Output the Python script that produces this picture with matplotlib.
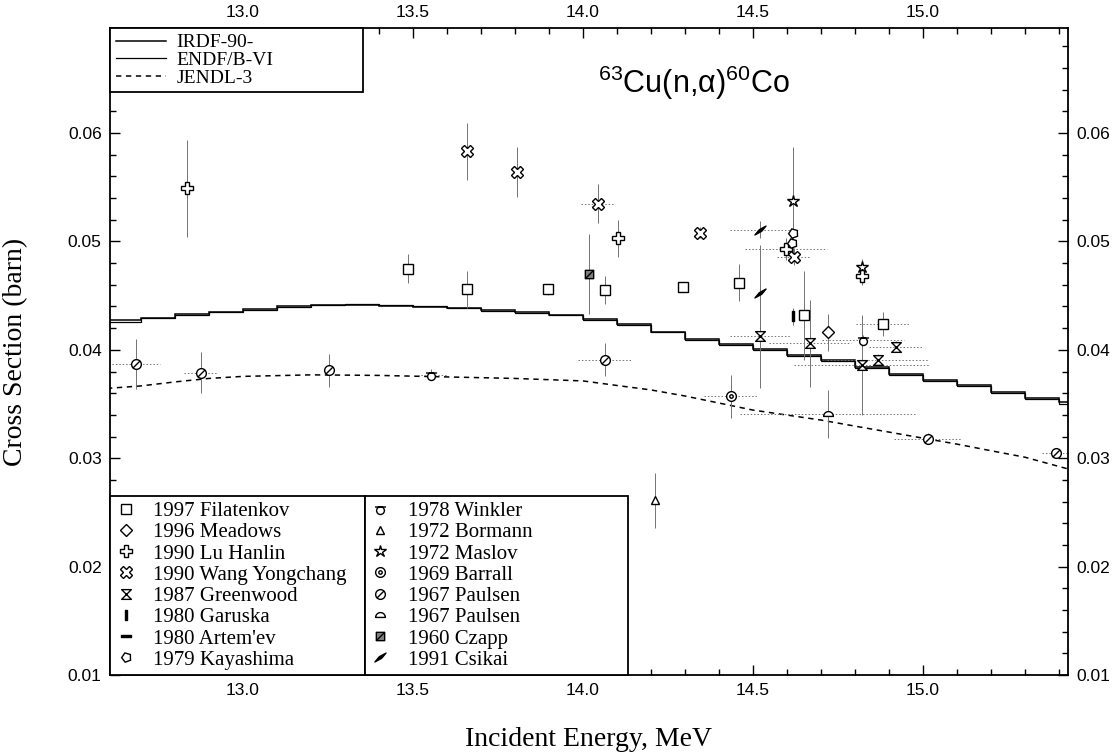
import numpy as np
import matplotlib
matplotlib.use("Agg")
import matplotlib.pyplot as plt
from matplotlib.path import Path
from matplotlib.ticker import MultipleLocator, FormatStrFormatter

plt.rcParams["font.family"] = ["Liberation Serif", "DejaVu Serif"]
plt.rcParams["mathtext.fontset"] = "custom"
plt.rcParams["mathtext.default"] = "regular"

# evaluated curves, 0.1 MeV groups
edges = [12.6, 12.7, 12.8, 12.9, 13.0, 13.1, 13.2, 13.3, 13.4, 13.5, 13.6, 13.7, 13.8, 13.9, 14.0,
         14.1, 14.2, 14.3, 14.4, 14.5, 14.6, 14.7, 14.8, 14.9, 15.0, 15.1, 15.2, 15.3, 15.4, 15.5]
irdf = [0.04273, 0.04296, 0.04329, 0.04352, 0.04380, 0.04403, 0.04412, 0.04417, 0.04407, 0.04394,
        0.04389, 0.04370, 0.04347, 0.04319, 0.04287, 0.04241, 0.04167, 0.04102, 0.04056, 0.04005,
        0.03954, 0.03907, 0.03843, 0.03778, 0.03722, 0.03671, 0.03611, 0.03556, 0.03519]
endf = [0.04255, 0.04290, 0.04320, 0.04345, 0.04372, 0.04398, 0.04410, 0.04420, 0.04410, 0.04400,
        0.04385, 0.04362, 0.04340, 0.04322, 0.04275, 0.04230, 0.04160, 0.04095, 0.04045, 0.03995,
        0.03945, 0.03900, 0.03835, 0.03770, 0.03715, 0.03662, 0.03600, 0.03545, 0.03500]
jendl_e = [12.6, 12.7, 12.8, 12.9, 13.0, 13.2, 13.4, 13.6, 13.8, 14.0, 14.1, 14.2, 14.3, 14.4,
           14.5, 14.6, 14.7, 14.8, 14.9, 15.0, 15.1, 15.2, 15.3, 15.43]
jendl = [0.03644, 0.03667, 0.03704, 0.03736, 0.03755, 0.03769, 0.03764, 0.03750, 0.03736, 0.03713,
         0.03671, 0.03630, 0.03574, 0.03509, 0.03444, 0.03398, 0.03352, 0.03296, 0.03241, 0.03185,
         0.03130, 0.03069, 0.03009, 0.02898]

# measurements: energy (MeV), cross section (b), dsigma, dE
fil_e = [13.485, 13.659, 13.897, 14.065, 14.294, 14.459, 14.650, 14.882]
fil_s = [0.0475, 0.0456, 0.0456, 0.0455, 0.0458, 0.0462, 0.0432, 0.0424]
fil_ds = [0.0013, 0.0017, 0.0005, 0.0013, 0.0005, 0.0017, 0.0041, 0.0011]
fil_de = [0, 0, 0, 0, 0, 0, 0, 0.08]
mea_e, mea_s, mea_ds, mea_de = [14.721], [0.0416], [0.0017], [0]
lu_e = [12.835, 14.103, 14.597, 14.821]
lu_s = [0.0549, 0.0503, 0.0493, 0.0468]
lu_ds = [0.0045, 0.0017, 0.0010, 0.0008]
lu_de = [0, 0, 0.12, 0]
wang_e = [13.659, 13.806, 14.044, 14.344, 14.621]
wang_s = [0.0583, 0.0564, 0.0535, 0.0508, 0.0486]
wang_ds = [0.0026, 0.0023, 0.0018, 0.0005, 0.0008]
wang_de = [0, 0, 0.05, 0, 0.05]
gw_e = [14.521, 14.668, 14.821, 14.868, 14.921]
gw_s = [0.0413, 0.0406, 0.0386, 0.0391, 0.0403]
gw_ds = [0.0048, 0.0040, 0.0046, 0.0005, 0.0005]
gw_de = [0.09, 0.12, 0.20, 0.15, 0.08]
gar_e, gar_s, gar_ds, gar_de = [14.618], [0.0431], [0.0008], [0]
art_e, art_s = [], []
kay_e, kay_s, kay_ds, kay_de = [14.618, 14.615], [0.0508, 0.0499], [0.0010, 0.0010], [0, 0]
win_e, win_s, win_ds, win_de = [13.553, 14.824], [0.0377, 0.0409], [0.0005, 0.0005], [0.05, 0.12]
bor_e, bor_s, bor_ds, bor_de = [14.212], [0.0261], [0.0025], [0]
mas_e, mas_s, mas_ds, mas_de = [14.618, 14.821], [0.0537, 0.0476], [0.0050, 0.0008], [0, 0]
bar_e, bar_s, bar_ds, bar_de = [14.435], [0.0357], [0.0020], [0.08]
pau_e = [12.685, 12.876, 13.253, 14.065, 15.015, 15.391]
pau_s = [0.0387, 0.0379, 0.0381, 0.0391, 0.0318, 0.0305]
pau_ds = [0.0023, 0.0019, 0.0015, 0.0015, 0.0005, 0.0003]
pau_de = [0.07, 0.05, 0.0, 0.08, 0.10, 0.04]
pau2_e, pau2_s, pau2_ds, pau2_de = [14.721], [0.0341], [0.0022], [0.26]
cza_e, cza_s, cza_ds, cza_de = [14.018], [0.0470], [0.0037], [0]
csi_e, csi_s, csi_ds, csi_de = [14.521, 14.521], [0.0511, 0.0452], [0.0008, 0.0045], [0.09, 0]

# marker shapes
t = np.linspace(0, np.pi, 20)
hourglass = Path([(-1, 1), (1, 1), (-1, -1), (1, -1), (-1, 1)], closed=True)
slash_circle = Path.make_compound_path(Path.unit_circle(), Path([(-0.75, -0.75), (0.75, 0.75)]))
dot_circle = Path.make_compound_path(Path.unit_circle(), Path.circle((0, 0), 0.35))
semi = Path(list(zip(np.cos(t), np.sin(t) - 0.4)) + [(1, -0.4)], closed=True)
hat_circle = Path.make_compound_path(Path.circle((0, -0.2), 0.7), Path([(-1, 0.45), (1, 0.45)]))
slash_square = Path.make_compound_path(
    Path([(-1, -1), (1, -1), (1, 1), (-1, 1), (-1, -1)], closed=True), Path([(-1, -1), (1, 1)]))
vbar = Path([(-0.3, -1), (0.3, -1), (0.3, 1), (-0.3, 1), (-0.3, -1)], closed=True)
hbar = Path([(-1, -0.3), (1, -0.3), (1, 0.3), (-1, 0.3), (-1, -0.3)], closed=True)
sliver = Path([(-1, -0.8), (0.2, -0.15), (1, 0.8), (-0.2, 0.15), (-1, -0.8)], closed=True)

fig, ax = plt.subplots(figsize=(11.17, 7.55), dpi=100)
fig.subplots_adjust(left=0.0985, right=0.956, bottom=0.106, top=0.963)

ax.stairs(irdf, edges, baseline=None, color="k", lw=1.1, label="IRDF-90-")
ax.stairs(endf, edges, baseline=None, color="k", lw=0.9, label="ENDF/B-VI")
ax.plot(jendl_e, jendl, color="k", lw=1.1, ls=(0, (3.5, 3)), label="JENDL-3")

sets = [
    ("1997 Filatenkov", fil_e, fil_s, fil_ds, fil_de, "s", "white", 7),
    ("1996 Meadows", mea_e, mea_s, mea_ds, mea_de, "D", "white", 6),
    ("1990 Lu Hanlin", lu_e, lu_s, lu_ds, lu_de, "P", "white", 8),
    ("1990 Wang Yongchang", wang_e, wang_s, wang_ds, wang_de, "X", "white", 8),
    ("1987 Greenwood", gw_e, gw_s, gw_ds, gw_de, hourglass, "white", 7),
    ("1980 Garuska", gar_e, gar_s, gar_ds, gar_de, vbar, "k", 7),
    ("1980 Artem'ev", art_e, art_s, None, None, hbar, "k", 7),
    ("1979 Kayashima", kay_e, kay_s, kay_ds, kay_de, (5, 0, 20), "white", 7),
    ("1978 Winkler", win_e, win_s, win_ds, win_de, hat_circle, "white", 8),
    ("1972 Bormann", bor_e, bor_s, bor_ds, bor_de, "^", "white", 6),
    ("1972 Maslov", mas_e, mas_s, mas_ds, mas_de, "*", "white", 9),
    ("1969 Barrall", bar_e, bar_s, bar_ds, bar_de, dot_circle, "white", 7),
    ("1967 Paulsen", pau_e, pau_s, pau_ds, pau_de, slash_circle, "white", 7),
    ("1967 Paulsen", pau2_e, pau2_s, pau2_ds, pau2_de, semi, "white", 7),
    ("1960 Czapp", cza_e, cza_s, cza_ds, cza_de, slash_square, "0.5", 6),
    ("1991 Csikai", csi_e, csi_s, csi_ds, csi_de, sliver, "k", 8),
]

handles = []
for label, e, s, ds, de, mk, face, ms in sets:
    if ds is not None:
        eb = ax.errorbar(e, s, yerr=ds, xerr=de, fmt="none", ecolor="0.45", elinewidth=0.7,
                         capsize=0, zorder=2)
        eb.lines[2][0].set_linestyle((0, (1.5, 2)))
    h, = ax.plot(e, s, ls="none", marker=mk, ms=ms, mfc=face, mec="k", mew=1.0,
                 zorder=3, label=label)
    handles.append(h)

ax.set_xlim(12.609, 15.426)
ax.set_ylim(0.01, 0.0697)
ax.xaxis.set_major_locator(MultipleLocator(0.5))
ax.xaxis.set_minor_locator(MultipleLocator(0.1))
ax.yaxis.set_major_locator(MultipleLocator(0.01))
ax.yaxis.set_minor_locator(MultipleLocator(0.002))
ax.xaxis.set_major_formatter(FormatStrFormatter("%.1f"))
ax.yaxis.set_major_formatter(FormatStrFormatter("%.2f"))
ax.tick_params(which="both", direction="in", top=True, right=True,
               labeltop=True, labelright=True, labelsize=12.5, pad=6, width=1)
ax.tick_params(which="major", length=7)
ax.tick_params(which="minor", length=4)
for lab in ax.get_xticklabels() + ax.get_yticklabels():
    lab.set_family("Liberation Sans")
for sp in ax.spines.values():
    sp.set_linewidth(1.3)

ax.set_xlabel("Incident Energy, MeV", fontsize=20)
ax.set_ylabel("Cross Section (barn)", fontsize=20)
ax.xaxis.set_label_coords(0.5, -0.081)
ax.yaxis.set_label_coords(-0.085, 0.5)

ax.text(0.61, 0.915, r"$^{63}$Cu(n,$\alpha$)$^{60}$Co", transform=ax.transAxes,
        family="Liberation Sans", fontsize=22, ha="center", va="center")

leg_kw = dict(mode="expand", borderaxespad=0, fancybox=False, edgecolor="k",
              framealpha=1)
lines = ax.get_legend_handles_labels()[0][:3]
leg1 = ax.legend(lines, ["IRDF-90-", "ENDF/B-VI", "JENDL-3"], loc="upper left",
                 bbox_to_anchor=(0, 0, 0.264, 1), handlelength=2.6, handletextpad=0.5,
                 labelspacing=0.0, borderpad=0.3, fontsize=14, **leg_kw)
leg2 = ax.legend(handles[:8], [h.get_label() for h in handles[:8]], loc="lower left",
                 bbox_to_anchor=(0, 0, 0.266, 1), handlelength=1.0, handletextpad=0.8,
                 labelspacing=0.08, borderpad=0.25, numpoints=1, markerscale=1.0,
                 fontsize=15, **leg_kw)
leg3 = ax.legend(handles[8:], [h.get_label() for h in handles[8:]], loc="lower left",
                 bbox_to_anchor=(0.266, 0, 0.275, 1), handlelength=1.0, handletextpad=0.8,
                 labelspacing=0.08, borderpad=0.25, numpoints=1, markerscale=1.0,
                 fontsize=15, **leg_kw)
for lg in (leg1, leg2, leg3):
    lg.get_frame().set_linewidth(1.3)
ax.add_artist(leg1)
ax.add_artist(leg2)

fig.savefig("out.png", dpi=100)
